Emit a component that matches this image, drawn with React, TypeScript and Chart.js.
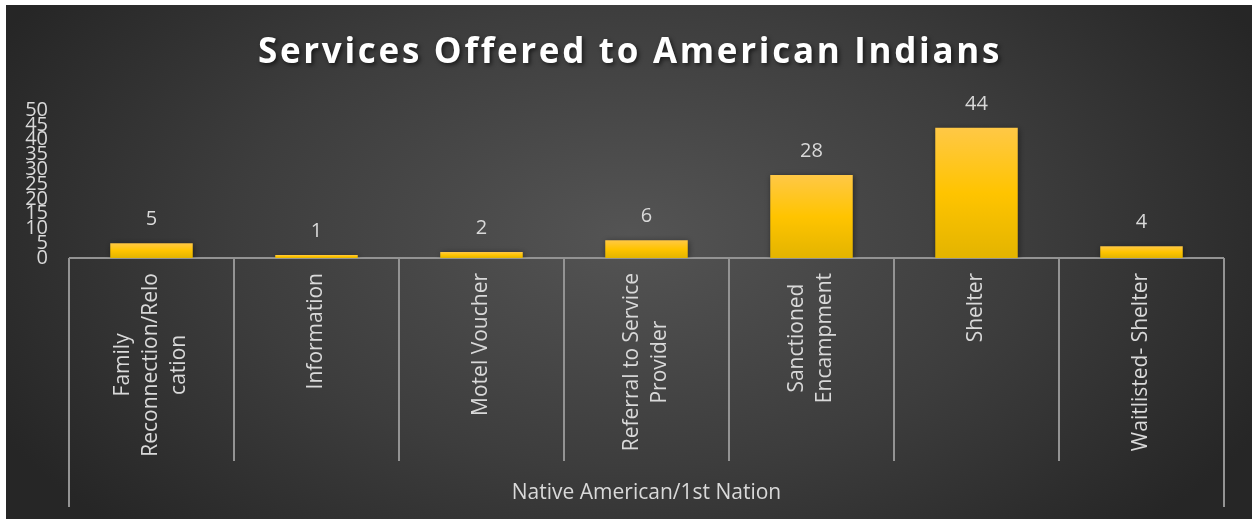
import React, { useEffect, useRef } from "react";
import { Chart, registerables } from "chart.js";

Chart.register(...registerables);

const chartTitle = "Services Offered to American Indians";
const groupLabel = "Native American/1st Nation";
const categoryLines: string[][] = [
  ["Family", "Reconnection/Relo", "cation"],
  ["Information"],
  ["Motel Voucher"],
  ["Referral to Service", "Provider"],
  ["Sanctioned", "Encampment"],
  ["Shelter"],
  ["Waitlisted- Shelter"],
];
const values: number[] = [5, 1, 2, 6, 28, 44, 4];
const yMin = 0;
const yMax = 50;
const yStep = 5;

const FONT = "'Open Sans', 'DejaVu Sans', sans-serif";
const TEXT = "#d9d9d9";
const LINE = "#939393";

const decorPlugin = {
  id: "decor",
  beforeDraw(chart: any) {
    const { ctx, width, height } = chart;
    ctx.save();
    const cx = width / 2;
    const cy = 230;
    const sx = 1.7;
    ctx.translate(cx, cy);
    ctx.scale(sx, 1);
    const g = ctx.createRadialGradient(0, 0, 0, 0, 0, 420);
    g.addColorStop(0, "#545454");
    g.addColorStop(0.55, "#3d3d3d");
    g.addColorStop(1, "#262626");
    ctx.fillStyle = g;
    ctx.fillRect(-cx / sx - 10, -cy - 10, width / sx + 20, height + 20);
    ctx.restore();

    // title
    ctx.save();
    ctx.font = `bold 35px ${FONT}`;
    (ctx as any).letterSpacing = "2.7px";
    ctx.fillStyle = "#ffffff";
    ctx.textAlign = "center";
    ctx.textBaseline = "alphabetic";
    ctx.shadowColor = "rgba(0,0,0,0.6)";
    ctx.shadowBlur = 4;
    ctx.shadowOffsetX = 2;
    ctx.shadowOffsetY = 2;
    ctx.fillText(chartTitle, width / 2 + 1, 58);
    ctx.restore();
  },
  beforeDatasetsDraw(chart: any) {
    const { ctx, chartArea, scales } = chart;
    const x = scales.x;
    const bottom = chartArea.bottom;
    ctx.save();
    ctx.strokeStyle = LINE;
    ctx.lineWidth = 2;
    // axis line
    ctx.beginPath();
    ctx.moveTo(chartArea.left, bottom);
    ctx.lineTo(chartArea.right, bottom);
    ctx.stroke();
    // category separators
    const n = categoryLines.length;
    for (let i = 0; i <= n; i++) {
      const px = Math.round(x.getPixelForValue(i - 0.5));
      const outer = i === 0 || i === n;
      ctx.beginPath();
      ctx.moveTo(px, bottom);
      ctx.lineTo(px, bottom + (outer ? 249 : 203));
      ctx.stroke();
    }
    ctx.restore();

    ctx.save();
    ctx.shadowColor = "rgba(0,0,0,0.45)";
    ctx.shadowBlur = 6;
    ctx.shadowOffsetX = 1;
    ctx.shadowOffsetY = 1;
  },
  afterDatasetsDraw(chart: any) {
    const { ctx } = chart;
    ctx.restore();
    const meta = chart.getDatasetMeta(0);
    ctx.save();
    ctx.font = `20px ${FONT}`;
    ctx.fillStyle = TEXT;
    ctx.textAlign = "center";
    ctx.textBaseline = "alphabetic";
    meta.data.forEach((bar: any, i: number) => {
      ctx.fillText(String(values[i]), bar.x, bar.y - 18);
    });
    ctx.restore();
  },
  afterDraw(chart: any) {
    const { ctx, chartArea, scales } = chart;
    const x = scales.x;
    const bottom = chartArea.bottom;
    ctx.save();
    ctx.font = `21px ${FONT}`;
    ctx.fillStyle = TEXT;
    const lh = 28;
    categoryLines.forEach((lines, i) => {
      const cx = x.getPixelForValue(i);
      const w = Math.max(...lines.map((l) => ctx.measureText(l).width));
      ctx.save();
      ctx.translate(cx, bottom + 15);
      ctx.rotate(-Math.PI / 2);
      ctx.textAlign = "center";
      ctx.textBaseline = "middle";
      lines.forEach((l, k) => {
        const off = (k - (lines.length - 1) / 2) * lh;
        ctx.fillText(l, -w / 2, off);
      });
      ctx.restore();
    });
    ctx.textAlign = "center";
    ctx.textBaseline = "alphabetic";
    ctx.fillText(groupLabel, (chartArea.left + chartArea.right) / 2, bottom + 241);
    ctx.restore();
  },
};

export default function App() {
  const ref = useRef<HTMLCanvasElement | null>(null);
  useEffect(() => {
    if (!ref.current) return;
    const chart = new Chart(ref.current, {
      type: "bar",
      data: {
        labels: categoryLines.map((l) => l.join(" ")),
        datasets: [
          {
            data: values,
            barPercentage: 0.5,
            categoryPercentage: 1,
            borderWidth: 0,
            backgroundColor: (c: any) => {
              const chart = c.chart;
              const { ctx, chartArea, scales } = chart;
              const v = c.raw;
              if (!chartArea || typeof v !== "number") return "#ffc000";
              const top = scales.y.getPixelForValue(v);
              const bot = scales.y.getPixelForValue(0);
              if (bot - top < 2) return "#ffc000";
              const g = ctx.createLinearGradient(0, top, 0, bot);
              g.addColorStop(0, "#ffc846");
              g.addColorStop(0.5, "#ffc400");
              g.addColorStop(1, "#e3b400");
              return g;
            },
          },
        ],
      },
      options: {
        responsive: false,
        animation: false,
        devicePixelRatio: 1,
        layout: { padding: { top: 105, right: 28, left: 0, bottom: 0 } },
        plugins: {
          legend: { display: false },
          title: { display: false },
          tooltip: { enabled: false },
        },
        scales: {
          x: {
            offset: true,
            grid: { display: false },
            border: { display: false },
            ticks: { display: false },
            afterFit: (s: any) => {
              s.height = 261;
            },
          },
          y: {
            min: yMin,
            max: yMax,
            grid: { display: false },
            border: { display: false },
            ticks: {
              stepSize: yStep,
              autoSkip: false,
              padding: 13,
              color: TEXT,
              font: { family: FONT, size: 20 },
            },
            afterFit: (s: any) => {
              s.width = 63;
            },
          },
        },
      },
      plugins: [decorPlugin],
    });
    return () => chart.destroy();
  }, []);
  return (
    <div style={{ position: "absolute", left: 6, top: 5, width: 1246, height: 514 }}>
      <canvas ref={ref} width={1246} height={514} style={{ display: "block" }} />
    </div>
  );
}
